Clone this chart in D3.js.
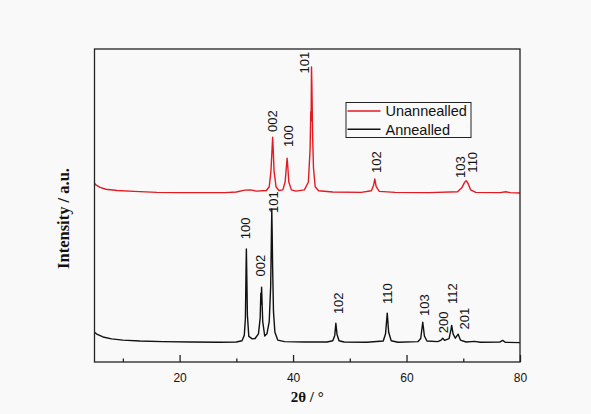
<!DOCTYPE html>
<html>
<head>
<meta charset="utf-8">
<script src="https://cdn.jsdelivr.net/npm/d3@7"></script>
<style>
    html, body { margin: 0; padding: 0; background: #f9f9f9; }
    #xrdChart { width: 591px; height: 414px; }
    .curve { fill: none; stroke-width: 1.4; stroke-linejoin: round; }
    .hkl { font-family: "Liberation Sans", Arial, sans-serif; font-size: 13px; fill: #111; }
    .tick-label { font-family: "Liberation Sans", Arial, sans-serif; font-size: 12px; fill: #111; }
    .axis-title { font-family: "Liberation Serif", "Times New Roman", serif; font-weight: bold; fill: #111; }
    .legend-text { font-family: "Liberation Sans", Arial, sans-serif; font-size: 14.5px; fill: #111; }
</style>
</head>
<body>
<div id="xrdChart"></div>
<script>
// 2theta / intensity pairs
const annealedTheta = [5.0, 5.5, 6.5, 8, 10, 13, 17, 22, 27, 30, 31.0, 31.4, 31.6, 31.7, 31.77, 31.85, 31.95, 32.2, 32.8,
    33.3, 33.9, 34.2, 34.32, 34.38, 34.45, 34.52, 34.65, 35.0, 35.4, 35.8, 36.05, 36.18, 36.25, 36.32, 36.4, 36.55, 36.8, 37.3, 38.5,
    42, 46, 47.0, 47.35, 47.54, 47.75, 48.1, 49, 53, 55.9, 56.3, 56.6, 56.85, 57.3, 58.5, 62, 62.5, 62.86, 63.15, 63.6,
    65.5, 66.1, 66.38, 66.7, 67.5, 67.85, 67.96, 68.2, 68.6, 69.1, 69.5, 70.5, 72, 73, 76.5, 76.95, 77.4, 80];
const annealedCounts = [9.5, 8.8, 8.0, 7.4, 7.0, 6.7, 6.5, 6.4, 6.3, 6.4, 6.8, 8.5, 14, 28, 36.1, 27, 15, 8.2, 7.4,
    7.5, 9, 14, 22, 18.5, 23.9, 20, 13, 8.3, 9, 13, 24, 40, 48.9, 41, 30, 16, 9.5, 7, 6.5,
    6.4, 6.4, 6.8, 8.5, 12.4, 8.8, 6.8, 6.4, 6.3, 6.7, 9, 15.6, 9.5, 6.8, 6.3, 6.5, 7.5, 12.7, 8.3, 6.7,
    6.5, 7, 7.6, 6.9, 7.5, 10.5, 11.7, 9, 7.6, 8.9, 7, 6.4, 6.6, 6.3, 6.4, 6.9, 6.3, 6.2];

const unannealedTheta = [5.0, 5.3, 6, 7, 9, 12, 16, 20, 25, 28, 30, 31.5, 32.5, 33.5, 35.3, 35.8, 36.1, 36.3, 36.4, 36.5, 36.65, 37.0, 37.5,
    38.2, 38.6, 38.85, 38.95, 39.05, 39.25, 39.7, 40.5, 42, 42.7, 43.0, 43.12, 43.18, 43.25, 43.32, 43.45, 43.6, 43.9, 44.5,
    47, 52, 53.8, 54.2, 54.4, 54.65, 55.2, 58, 64, 69, 69.8, 70.2, 70.5, 70.8, 71.3, 72.2, 76.5, 77.5, 78.3, 80];
const unannealedCounts = [57.1, 56.5, 55.8, 55.2, 54.8, 54.5, 54.2, 54.1, 54.1, 54.1, 54.3, 54.9, 55, 54.6, 54.8, 56, 61, 68, 71.8, 68, 61, 56, 54.8,
    55, 57.5, 63, 65.1, 63, 57.5, 55, 54.6, 55, 57.5, 68, 80, 77, 94.3, 88, 72, 62, 56, 54.7,
    54.3, 54.2, 54.7, 56.5, 58.5, 56, 54.5, 54.2, 54.1, 54.4, 55.8, 57.3, 57.9, 57.2, 55, 54.2, 54.1, 54.4, 54.1, 54.0];

// reflection labels: text, 2theta, intensity at the foot of the text
const unannealedHkl = ['002', '100', '101', '102', '103', '110'];
const unannealedHklTheta = [36.41, 39.23, 42.06, 54.71, 69.53, 71.6];
const unannealedHklLevel = [73.5, 68.7, 92.2, 60.4, 58.8, 60.5];

const annealedHkl = ['100', '002', '101', '102', '110', '103', '200', '112', '201'];
const annealedHklTheta = [31.59, 34.24, 36.59, 48.06, 56.7, 63.18, 66.48, 68.12, 70.11];
const annealedHklLevel = [39.2, 27.3, 47.6, 15.3, 18.5, 14.7, 9.2, 18.5, 10.4];

const xMajorTicks = [20, 40, 60, 80];
const xMinorTicks = [10, 30, 50, 70];

const seriesNames = ['Unannealled', 'Annealled'];
const seriesColors = ['#e31a22', '#111111'];

class XrdChart {
    constructor() {
        this.width = 591;
        this.height = 414;
        this.left = 94.5;
        this.right = 520;
        this.top = 49;
        this.bottom = 362;
        this.svg;
        this.xScale;
        this.yScale;
        this.setUpCanvas();
        this.plotCurves();
        this.plotLabels();
        this.plotAxis();
        this.plotLegend();
    };

    setUpCanvas = () => {
        this.svg = d3.select('#xrdChart')
                    .append('svg')
                    .attr('width', this.width)
                    .attr('height', this.height);

        this.xScale = d3.scaleLinear()
                        .domain([5, 80])
                        .range([this.left, this.right]);

        this.yScale = d3.scaleLinear()
                        .domain([0, 100])
                        .range([this.bottom, this.top]);
    };

    plotCurves = () => {
        const line = d3.line()
                       .x(d => this.xScale(d[0]))
                       .y(d => this.yScale(d[1]));

        const annealed = d3.zip(annealedTheta, annealedCounts);
        const unannealed = d3.zip(unannealedTheta, unannealedCounts);

        this.svg.append('path')
                .datum(annealed)
                .attr('class', 'curve')
                .attr('stroke', seriesColors[1])
                .attr('d', line);

        this.svg.append('path')
                .datum(unannealed)
                .attr('class', 'curve')
                .attr('stroke', seriesColors[0])
                .attr('d', line);
    };

    plotLabels = () => {
        const sets = [
            d3.zip(unannealedHkl, unannealedHklTheta, unannealedHklLevel),
            d3.zip(annealedHkl, annealedHklTheta, annealedHklLevel)
        ];
        sets.forEach(set => {
            this.svg.append('g')
                    .selectAll('text')
                    .data(set)
                    .enter()
                    .append('text')
                    .attr('class', 'hkl')
                    .attr('transform', d => 'translate(' + this.xScale(d[1]) + ',' + this.yScale(d[2]) + ') rotate(-90)')
                    .attr('dy', '0.36em')
                    .text(d => d[0]);
        });
    };

    plotAxis = () => {
        this.svg.append('rect')
                .attr('x', this.left)
                .attr('y', this.top)
                .attr('width', this.right - this.left)
                .attr('height', this.bottom - this.top)
                .attr('fill', 'none')
                .attr('stroke', '#222')
                .attr('stroke-width', 1.3);

        const major = d3.axisBottom(this.xScale)
                        .tickValues(xMajorTicks)
                        .tickSizeInner(-7)
                        .tickSizeOuter(0)
                        .tickPadding(11)
                        .tickFormat(d3.format('d'));

        const minor = d3.axisBottom(this.xScale)
                        .tickValues(xMinorTicks)
                        .tickSizeInner(-3.5)
                        .tickSizeOuter(0)
                        .tickFormat('');

        [major, minor].forEach(axis => {
            const g = this.svg.append('g')
                    .attr('transform', 'translate(0,' + this.bottom + ')')
                    .call(axis);
            g.select('.domain').remove();
            g.selectAll('line').attr('stroke', '#222').attr('stroke-width', 1.3);
            g.selectAll('text').attr('class', 'tick-label').attr('font-size', null).attr('font-family', null);
        });

        this.svg.append('text')
                .attr('class', 'axis-title')
                .attr('x', (this.left + this.right) / 2)
                .attr('y', 402)
                .attr('text-anchor', 'middle')
                .attr('font-size', 15)
                .text('2θ / °');

        this.svg.append('text')
                .attr('class', 'axis-title')
                .attr('transform', 'translate(69,' + ((this.top + this.bottom) / 2 + 13) + ') rotate(-90)')
                .attr('text-anchor', 'middle')
                .attr('font-size', 16.5)
                .text('Intensity / a.u.');
    };

    plotLegend = () => {
        const legend = this.svg.append('g')
                               .attr('transform', 'translate(346,102.5)');

        legend.append('rect')
              .attr('width', 125)
              .attr('height', 35)
              .attr('fill', '#fafafa')
              .attr('stroke', '#222')
              .attr('stroke-width', 1);

        const rows = legend.selectAll('g.row')
                           .data(seriesNames)
                           .enter()
                           .append('g')
                           .attr('class', 'row')
                           .attr('transform', (d, i) => 'translate(0,' + (8.5 + i * 18.3) + ')');

        rows.append('line')
            .attr('x1', 1.5)
            .attr('x2', 34.5)
            .attr('stroke', (d, i) => seriesColors[i])
            .attr('stroke-width', 1.6);

        rows.append('text')
            .attr('class', 'legend-text')
            .attr('x', 39.5)
            .attr('dy', '0.36em')
            .text(d => d);
    };
};

new XrdChart();
</script>
</body>
</html>
